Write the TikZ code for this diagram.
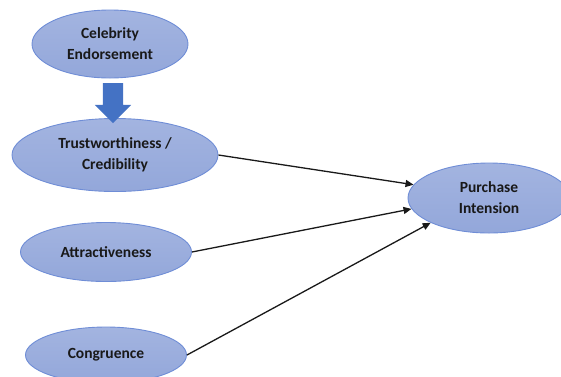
\documentclass[tikz,border=0pt]{standalone}
\usepackage{fontspec}
\setmainfont{Carlito}
\usetikzlibrary{shapes.geometric}
\usetikzlibrary{shapes.arrows}
\usetikzlibrary{arrows.meta}

\definecolor{ovalfill}{HTML}{A3B4E0}
\definecolor{ovaldark}{HTML}{93A7DA}
\definecolor{ovalline}{HTML}{6F8DD6}
\definecolor{pushblue}{HTML}{4472C4}

\tikzset{
	construct/.style={ellipse, draw=ovalline, line width=0.9pt, top color=ovalfill, bottom color=ovaldark,
		inner sep=0pt, align=center, font=\bfseries\fontsize{15.5}{21}\selectfont, text=black!90},
	link/.style={-{Triangle[length=8pt,width=7pt]}, line width=1.3pt, black!90}
}

\begin{document}
\begin{tikzpicture}[x=1pt,y=-1pt]
	\useasboundingbox (0,0) rectangle (561,376);
	\node [construct, minimum width=156pt, minimum height=68pt] (celeb) at (110,44) {Celebrity\\Endorsement};
	\node [construct, minimum width=206pt, minimum height=73pt] (trust) at (115,155) {Trustworthiness /\\Credibility};
	\node [construct, minimum width=171pt, minimum height=59pt] (attr) at (106,252) {Attractiveness};
	\node [construct, minimum width=161pt, minimum height=56pt] (cong) at (106,355) {Congruence};
	\node [construct, minimum width=162pt, minimum height=70pt] (purch) at (489,198) {Purchase\\Intension};
	\node [single arrow, fill=pushblue, draw=none, inner sep=10pt, minimum width=36pt, minimum height=40pt,
		single arrow head extend=8pt, rotate=-90] (push) at (113,98) {};
	\draw [link] (trust.east) -- (purch.170);
	\draw [link] (attr.east) -- (purch.188);
	\draw [link] (cong.east) -- (purch.203);
\end{tikzpicture}
\end{document}
